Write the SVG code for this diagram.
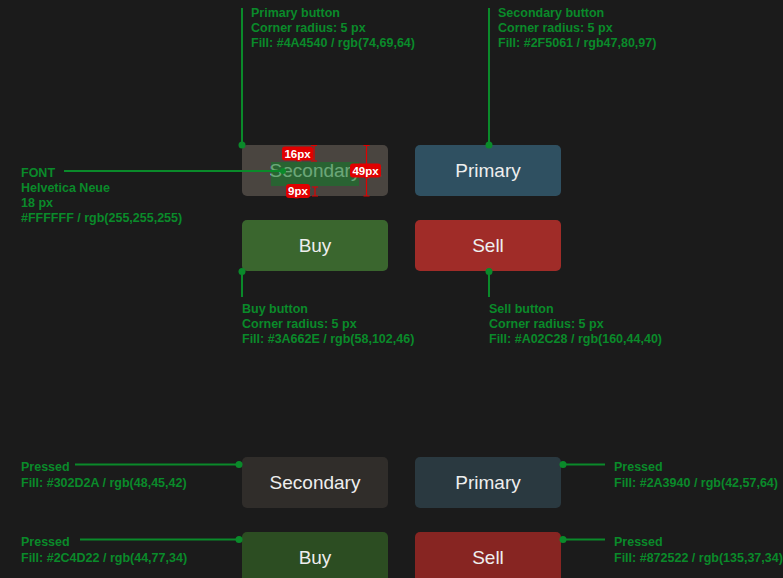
<svg xmlns="http://www.w3.org/2000/svg" width="783" height="578" viewBox="0 0 783 578">
<style>
.bg{fill:#1b1b1b}
.btn-label{font-family:"Liberation Sans",Arial,Helvetica,sans-serif;font-size:19px;fill:#eeeeee;text-anchor:middle}
.note{font-family:"Liberation Sans",Arial,Helvetica,sans-serif;font-size:12.5px;font-weight:bold;fill:#0a8a2a}
.conn{stroke:#0a8a2a;stroke-width:2;fill:none}
.dot{fill:#0a8a2a}
.meas{stroke:#e00000;stroke-width:1.2;fill:none}
.mlab{font-family:"Liberation Sans",Arial,sans-serif;font-size:11.5px;font-weight:bold;fill:#ffffff;text-anchor:middle;stroke:#e00000;stroke-width:2.5;paint-order:stroke}
.mbox{fill:#e00000}
</style>
<rect class="bg" x="0" y="0" width="783" height="578"/>

<g id="btn-secondary">
<rect x="242" y="145" width="146" height="51" rx="5" fill="#4a4540"/>
<text class="btn-label" x="315" y="177">Secondary</text>
<rect x="271" y="162" width="88" height="24" fill="#14782a" fill-opacity="0.6"/>
</g>
<g id="btn-primary">
<rect x="415" y="145" width="146" height="51" rx="5" fill="#2f5061"/>
<text class="btn-label" x="488" y="177">Primary</text>
</g>
<g id="btn-buy">
<rect x="242" y="220" width="146" height="51" rx="5" fill="#3a662e"/>
<text class="btn-label" x="315" y="252">Buy</text>
</g>
<g id="btn-sell">
<rect x="415" y="220" width="146" height="51" rx="5" fill="#a02c28"/>
<text class="btn-label" x="488" y="252">Sell</text>
</g>
<g id="btn-secondary-pressed">
<rect x="242" y="457" width="146" height="51" rx="5" fill="#302d2a"/>
<text class="btn-label" x="315" y="489">Secondary</text>
</g>
<g id="btn-primary-pressed">
<rect x="415" y="457" width="146" height="51" rx="5" fill="#2a3940"/>
<text class="btn-label" x="488" y="489">Primary</text>
</g>
<g id="btn-buy-pressed">
<rect x="242" y="532" width="146" height="51" rx="5" fill="#2c4d22"/>
<text class="btn-label" x="315" y="564">Buy</text>
</g>
<g id="btn-sell-pressed">
<rect x="415" y="532" width="146" height="51" rx="5" fill="#872522"/>
<text class="btn-label" x="488" y="564">Sell</text>
</g>

<g id="measurements">
<path class="meas" d="M314 145.5V161M311 145.5H317M311 161H317"/>
<path class="meas" d="M315 187V196M312 187H318M312 196H318"/>
<path class="meas" d="M366.5 145.5V196M363.5 145.5H369.5M363.5 196H369.5"/>
<rect class="mbox" x="282" y="146.5" width="31" height="14" rx="3"/>
<text class="mlab" x="297.5" y="157.5">16px</text>
<rect class="mbox" x="350" y="163.5" width="31" height="14" rx="3"/>
<text class="mlab" x="365.5" y="174.5">49px</text>
<rect class="mbox" x="286" y="184" width="24" height="14" rx="3"/>
<text class="mlab" x="298" y="195">9px</text>
</g>

<g id="connectors">
<path class="conn" d="M242 8V145"/>
<circle class="dot" cx="242" cy="145" r="3.5"/>
<path class="conn" d="M489 8V145"/>
<circle class="dot" cx="489" cy="145" r="3.5"/>
<path class="conn" d="M64 171H283"/>
<circle class="dot" cx="283" cy="171" r="3"/>
<path class="conn" d="M242 271V297"/>
<circle class="dot" cx="242" cy="271.5" r="3.5"/>
<path class="conn" d="M489 271V297"/>
<circle class="dot" cx="489" cy="271.5" r="3.5"/>
<path class="conn" d="M75 464.5H239"/>
<circle class="dot" cx="239" cy="464.5" r="3.5"/>
<path class="conn" d="M80 539.5H239"/>
<circle class="dot" cx="239" cy="539.5" r="3.5"/>
<path class="conn" d="M563 464.5H605"/>
<circle class="dot" cx="563" cy="464.5" r="3.5"/>
<path class="conn" d="M563 539.5H605"/>
<circle class="dot" cx="563" cy="539.5" r="3.5"/>
</g>

<g id="note-primary">
<text class="note" x="251" y="17">Primary button</text>
<text class="note" x="251" y="32">Corner radius: 5 px</text>
<text class="note" x="251" y="47">Fill: #4A4540 / rgb(74,69,64)</text>
</g>
<g id="note-secondary">
<text class="note" x="498" y="17">Secondary button</text>
<text class="note" x="498" y="32">Corner radius: 5 px</text>
<text class="note" x="498" y="47">Fill: #2F5061 / rgb47,80,97)</text>
</g>
<g id="note-font">
<text class="note" x="21" y="177">FONT</text>
<text class="note" x="21" y="192">Helvetica Neue</text>
<text class="note" x="21" y="207">18 px</text>
<text class="note" x="21" y="222">#FFFFFF / rgb(255,255,255)</text>
</g>
<g id="note-buy">
<text class="note" x="242" y="313">Buy button</text>
<text class="note" x="242" y="328">Corner radius: 5 px</text>
<text class="note" x="242" y="343">Fill: #3A662E / rgb(58,102,46)</text>
</g>
<g id="note-sell">
<text class="note" x="489" y="313">Sell button</text>
<text class="note" x="489" y="328">Corner radius: 5 px</text>
<text class="note" x="489" y="343">Fill: #A02C28 / rgb(160,44,40)</text>
</g>
<g id="note-secondary-pressed">
<text class="note" x="21" y="470.5">Pressed</text>
<text class="note" x="21" y="486.5">Fill: #302D2A / rgb(48,45,42)</text>
</g>
<g id="note-buy-pressed">
<text class="note" x="21" y="545.5">Pressed</text>
<text class="note" x="21" y="561.5">Fill: #2C4D22 / rgb(44,77,34)</text>
</g>
<g id="note-primary-pressed">
<text class="note" x="614" y="470.5">Pressed</text>
<text class="note" x="614" y="486.5">Fill: #2A3940 / rgb(42,57,64)</text>
</g>
<g id="note-sell-pressed">
<text class="note" x="614" y="545.5">Pressed</text>
<text class="note" x="614" y="561.5">Fill: #872522 / rgb(135,37,34)</text>
</g>
</svg>
